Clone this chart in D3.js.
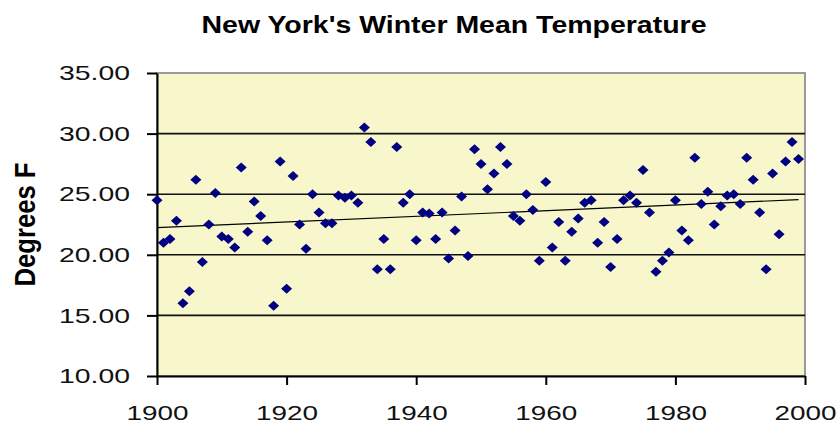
<!DOCTYPE html>
<html>
<head>
<meta charset="utf-8">
<script src="https://cdn.jsdelivr.net/npm/d3@7"></script>
<style>
	body { margin: 0; background: #fff; }
	text { font-family: "Liberation Sans", Arial, sans-serif; }
</style>
</head>
<body>
<div id="chart-area"></div>
<script>
// Winter mean temperature, one value per year 1900-1999
var years = d3.range(1900, 2000);
var temps = [
	24.5, 21.0, 21.3, 22.8, 16.0, 17.0, 26.2, 19.4, 22.5, 25.1,
	21.5, 21.3, 20.6, 27.2, 21.9, 24.4, 23.2, 21.2, 15.8, 27.7,
	17.2, 26.5, 22.5, 20.5, 25.0, 23.5, 22.6, 22.6, 24.9, 24.7,
	24.9, 24.3, 30.5, 29.3, 18.8, 21.3, 18.8, 28.9, 24.3, 25.0,
	21.2, 23.5, 23.4, 21.3, 23.5, 19.7, 22.0, 24.8, 19.9, 28.7,
	27.5, 25.4, 26.7, 28.9, 27.5, 23.2, 22.8, 25.0, 23.7, 19.5,
	26.0, 20.6, 22.7, 19.5, 21.9, 23.0, 24.3, 24.5, 21.0, 22.7,
	19.0, 21.3, 24.5, 24.9, 24.3, 27.0, 23.5, 18.6, 19.5, 20.2,
	24.5, 22.0, 21.2, 28.0, 24.2, 25.2, 22.5, 24.0, 24.9, 25.0,
	24.2, 28.0, 26.2, 23.5, 18.8, 26.7, 21.7, 27.7, 29.3, 27.9
];
var yTicks = [10, 15, 20, 25, 30, 35];
var xTicks = [1900, 1920, 1940, 1960, 1980, 2000];

var margin = { top: 73, right: 34, bottom: 50, left: 157 };
var width = 839 - margin.left - margin.right,
	height = 426 - margin.top - margin.bottom;

var svg = d3.select("#chart-area")
	.append("svg")
		.attr("width", 839)
		.attr("height", 426);

var g = svg.append("g")
	.attr("transform", `translate(${margin.left},${margin.top})`);

var x = d3.scaleLinear().domain([1900, 2000]).range([0, width]);
var y = d3.scaleLinear().domain([10, 35]).range([height, 0]);

// plot background
g.append("rect")
	.attr("width", width)
	.attr("height", height)
	.attr("fill", "#f7f7cb")
	.attr("stroke", "#9a9a9a")
	.attr("stroke-width", 2);

// horizontal grid lines
g.selectAll(".grid")
	.data(yTicks.filter((d) => d > 10 && d < 35))
	.enter()
	.append("line")
		.attr("class", "grid")
		.attr("x1", 0)
		.attr("x2", width)
		.attr("y1", (d) => y(d))
		.attr("y2", (d) => y(d))
		.attr("stroke", "#111")
		.attr("stroke-width", 1.6);

// axes
var yAxisCall = d3.axisLeft(y)
	.tickValues(yTicks)
	.tickFormat(d3.format(".2f"))
	.tickSize(10)
	.tickPadding(17)
	.tickSizeOuter(0);

var xAxisCall = d3.axisBottom(x)
	.tickValues(xTicks)
	.tickFormat(d3.format("d"))
	.tickSize(9)
	.tickPadding(20)
	.tickSizeOuter(0);

var yAxis = g.append("g").attr("class", "left axis").call(yAxisCall);
var xAxis = g.append("g")
	.attr("class", "bottom axis")
	.attr("transform", `translate(0,${height})`)
	.call(xAxisCall);

[yAxis, xAxis].forEach((ax) => {
	ax.select(".domain").attr("stroke", "#000").attr("stroke-width", 2);
	ax.selectAll(".tick line").attr("stroke", "#000").attr("stroke-width", 2);
	ax.selectAll("text")
		.attr("font-size", 21)
		.attr("fill", "#111")
		.attr("font-family", "'Liberation Sans', Arial, sans-serif")
		.attr("lengthAdjust", "spacingAndGlyphs");
});
yAxis.selectAll("text").attr("textLength", 71);
xAxis.selectAll("text").attr("textLength", 62);

// linear trend line (least squares)
var mx = d3.mean(years), my = d3.mean(temps);
var slope = d3.sum(years, (d, i) => (d - mx) * (temps[i] - my)) /
	d3.sum(years, (d) => (d - mx) * (d - mx));
var trend = (yr) => my + slope * (yr - mx);

g.append("line")
	.attr("x1", x(1900))
	.attr("y1", y(trend(1900)))
	.attr("x2", x(1999))
	.attr("y2", y(trend(1999)))
	.attr("stroke", "#000")
	.attr("stroke-width", 1.2);

// markers
g.selectAll(".pt")
	.data(years)
	.enter()
	.append("path")
		.attr("class", "pt")
		.attr("d", "M0,-5L5.5,0L0,5L-5.5,0Z")
		.attr("transform", (d, i) => `translate(${x(d)},${y(temps[i])})`)
		.attr("fill", "#000080");

// title
svg.append("text")
	.attr("x", 454)
	.attr("y", 33)
	.attr("text-anchor", "middle")
	.attr("font-size", 23)
	.attr("font-weight", "bold")
	.attr("textLength", 505)
	.attr("lengthAdjust", "spacingAndGlyphs")
	.text("New York's Winter Mean Temperature");

// y label
svg.append("text")
	.attr("transform", `translate(35,${margin.top + height / 2}) rotate(-90)`)
	.attr("text-anchor", "middle")
	.attr("font-size", 29)
	.attr("font-weight", "bold")
	.attr("textLength", 124)
	.attr("lengthAdjust", "spacingAndGlyphs")
	.text("Degrees F");
</script>
</body>
</html>
